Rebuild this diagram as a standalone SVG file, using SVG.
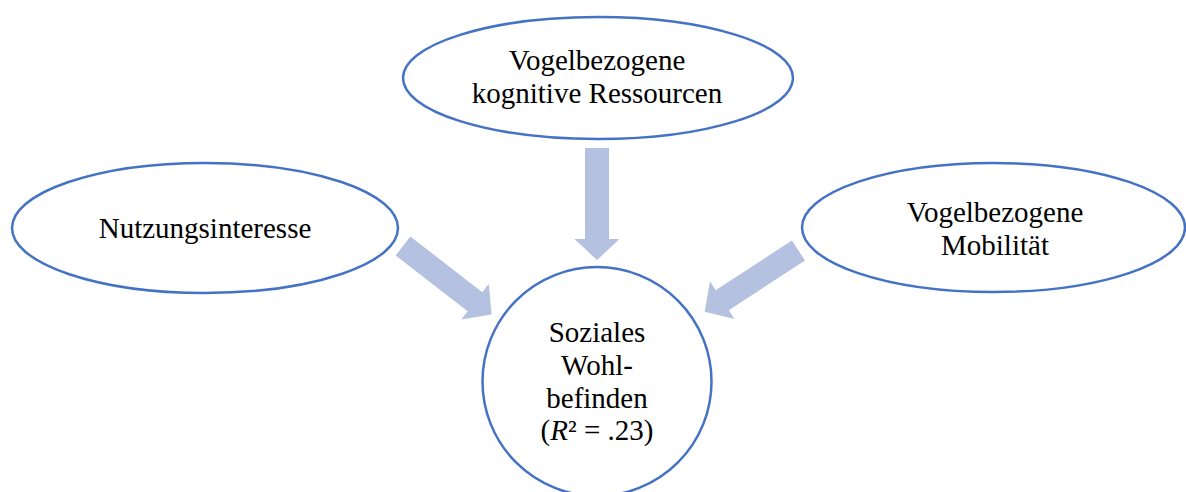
<svg xmlns="http://www.w3.org/2000/svg" width="1186" height="492" viewBox="0 0 1186 492">
  <style>
    .node { fill: #ffffff; stroke: #4472c4; stroke-width: 2.5; }
    .label { font-family: "Liberation Serif", "Times New Roman", serif; font-size: 29px; fill: #000000; text-anchor: middle; }
    .arrow { fill: #b4c1e1; }
  </style>
  <defs>
    <!-- block arrow pointing along +x, tail at origin -->
    <polygon id="blockArrow" points="0,-12 91,-12 91,-22.5 112,0 91,22.5 91,12 0,12"/>
  </defs>
  <rect width="1186" height="492" fill="#ffffff"/>

  <g id="connectors" class="arrow">
    <use href="#blockArrow" transform="translate(597,148) rotate(90)"/>
    <use href="#blockArrow" transform="translate(403,246) rotate(37.7)"/>
    <use href="#blockArrow" transform="translate(798.5,250.5) rotate(146.9)"/>
  </g>

  <g id="node-ressourcen">
    <ellipse class="node" cx="598" cy="78" rx="195" ry="61"/>
    <text class="label" x="597" y="70">Vogelbezogene</text>
    <text class="label" x="597" y="103">kognitive Ressourcen</text>
  </g>

  <g id="node-nutzungsinteresse">
    <ellipse class="node" cx="205" cy="228" rx="193" ry="65"/>
    <text class="label" x="205" y="238">Nutzungsinteresse</text>
  </g>

  <g id="node-mobilitaet">
    <ellipse class="node" cx="993.5" cy="227.5" rx="191.5" ry="64.5"/>
    <text class="label" x="995" y="222">Vogelbezogene</text>
    <text class="label" x="995" y="255">Mobilität</text>
  </g>

  <g id="node-wohlbefinden">
    <circle class="node" cx="597" cy="381.5" r="114.5"/>
    <text class="label" x="597" y="342">Soziales</text>
    <text class="label" x="597" y="375">Wohl-</text>
    <text class="label" x="597" y="408">befinden</text>
    <text class="label" x="597" y="440">(<tspan font-style="italic">R</tspan>² = .23)</text>
  </g>
</svg>
